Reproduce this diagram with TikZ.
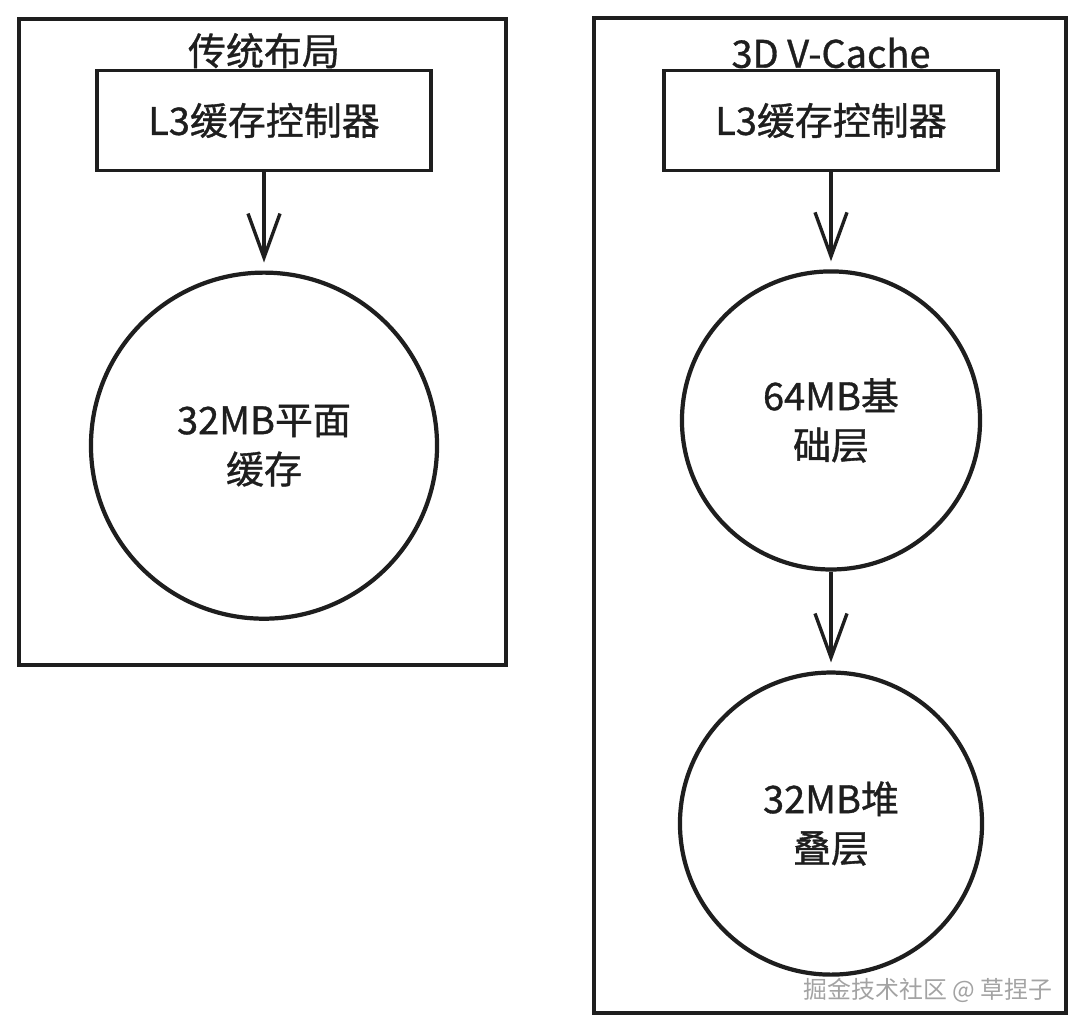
\documentclass[tikz,border=0pt]{standalone}
\usepackage{fontspec}
\setmainfont{Noto Sans CJK SC}[FakeBold=0.9]
\newfontfamily\markfont{Noto Sans CJK SC}
\usepackage{tikz}
\usetikzlibrary{arrows.meta, positioning}
\definecolor{Ink}{HTML}{1E1E1E}
\definecolor{MarkGray}{HTML}{A3A3A3}
\tikzset{
    panel/.style={
        draw=Ink,
        line width=2.8pt
    },
    ctrlblock/.style={
        rectangle,
        draw=Ink,
        fill=white,
        minimum width=8.35cm,
        minimum height=2.5cm,
        align=center,
        text=Ink,
        font=\fontsize{27}{35}\selectfont,
        line width=2.8pt
    },
    cache/.style={
        circle,
        draw=Ink,
        fill=white,
        inner sep=0pt,
        align=center,
        text=Ink,
        font=\fontsize{27}{35}\selectfont,
        line width=3pt
    },
    paneltitle/.style={
        inner sep=0pt,
        text=Ink,
        font=\fontsize{27}{35}\selectfont
    },
    flowarrow/.style={
        -{Straight Barb[length=1.1cm, width=0.8cm]},
        draw=Ink,
        line width=2.4pt,
        shorten >=0.2cm
    },
    watermark/.style={
        text=MarkGray,
        font=\markfont\fontsize{17}{20}\selectfont
    }
}
\begin{document}
\begin{tikzpicture}[x=0.025cm, y=-0.025cm]
    \useasboundingbox (0,0) rectangle (1086,1032);

    % Panels
    \draw[panel] (19,19) rectangle (506,665);
    \draw[panel] (594,18) rectangle (1066,1013);

    % Nodes
    \node[ctrlblock] (ctrlA) at (264,120.5) {L3缓存控制器};
    \node[paneltitle, above=0pt of ctrlA] (titleA) {传统布局};
    \node[cache, minimum size=8.65cm, below=2.45cm of ctrlA] (flatA) {32MB平面\\缓存};

    \node[ctrlblock] (ctrlB) at (831,120.5) {L3缓存控制器};
    \node[paneltitle, above=0pt of ctrlB] (titleB) {3D V-Cache};
    \node[cache, minimum size=7.45cm, below=2.42cm of ctrlB] (baseB) {64MB基\\础层};
    \node[cache, minimum size=7.55cm, below=2.47cm of baseB] (stackB) {32MB堆\\叠层};

    \node[watermark] (mark) at (928,990) {掘金技术社区 @ 草捏子};

    % Paths
    \draw[flowarrow] (ctrlA) -- (flatA);
    \draw[flowarrow] (ctrlB) -- (baseB);
    \draw[flowarrow] (baseB) -- (stackB);

\end{tikzpicture}
\end{document}
